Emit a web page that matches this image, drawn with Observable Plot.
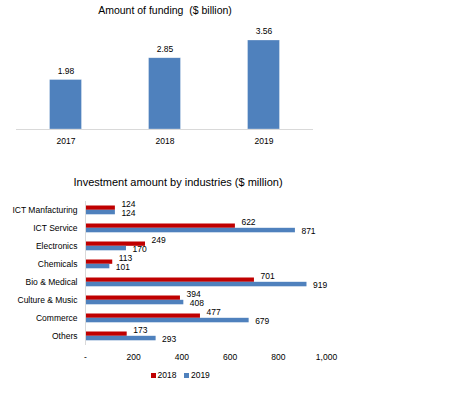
<!DOCTYPE html>
<html>
<head>
<meta charset="utf-8">
<script src="https://cdn.jsdelivr.net/npm/d3@7"></script>
<script src="https://cdn.jsdelivr.net/npm/@observablehq/plot@0.6"></script>
<style>
  body { margin: 0; background: #fff; }
  #wrap { position: relative; width: 458px; height: 394px; background: #fff; font-family: "Liberation Sans", Arial, sans-serif; color: #000; overflow: hidden; }
  .title { position: absolute; white-space: nowrap; transform: translate(-50%, -50%); }
  .abs { position: absolute; }
  #legend { position: absolute; top: 370px; left: 151px; font-size: 8.5px; display: flex; align-items: center; gap: 0; white-space: nowrap; }
  #legend .sw { display: inline-block; width: 5px; height: 5px; margin-right: 1.5px; }
</style>
</head>
<body>
<div id="wrap">
  <div class="title" style="left:165px; top:10px; font-size:10.5px;">Amount of funding&nbsp; ($ billion)</div>
  <div id="topChart" class="abs" style="left:0; top:0;"></div>
  <div class="title" style="left:178px; top:182px; font-size:11px;">Investment amount by industries ($ million)</div>
  <div id="bottomChart" class="abs" style="left:0; top:190px;"></div>
  <div id="legend">
    <span class="sw" style="background:#C00000"></span><span>2018</span>
    <span class="sw" style="background:#4F81BD; margin-left:8px"></span><span>2019</span>
  </div>
</div>
<script>
// Top chart data
const years = ["2017", "2018", "2019"];
const funding = [1.98, 2.85, 3.56];

// Bottom chart data
const industries = ["ICT Manfacturing", "ICT Service", "Electronics", "Chemicals", "Bio & Medical", "Culture & Music", "Commerce", "Others"];
const inv2018 = [124, 622, 249, 113, 701, 394, 477, 173];
const inv2019 = [124, 871, 170, 101, 919, 408, 679, 293];
const xTicks = [0, 200, 400, 600, 800, 1000];

const BLUE = "#4F81BD";
const RED = "#C00000";
const font = {fontFamily: "'Liberation Sans', Arial, sans-serif", fontSize: "8.5px", color: "#000", background: "transparent", overflow: "visible"};

const fundRows = years.map((y, i) => ({year: y, value: funding[i]}));

const topPlot = Plot.plot({
  width: 330, height: 150,
  marginLeft: 16, marginRight: 17, marginTop: 29, marginBottom: 21,
  style: font,
  x: {domain: years, padding: 0, label: null, tickSize: 0, tickPadding: 8},
  y: {domain: [0, 4], axis: null},
  marks: [
    Plot.barY(fundRows, {x: "year", y: "value", fill: BLUE, insetLeft: 33.5, insetRight: 33.5, stroke: "#ffffff", strokeOpacity: 0.5, strokeWidth: 0.6}),
    Plot.ruleY([0], {stroke: "#d9d9d9"}),
    Plot.text(fundRows, {x: "year", y: "value", text: d => d.value.toFixed(2), dy: -6.5, lineAnchor: "bottom", fontSize: 8.5, fill: "#000"})
  ]
});
document.getElementById("topChart").appendChild(topPlot);

const rows = industries.map((k, i) => ({industry: k, v2018: inv2018[i], v2019: inv2019[i]}));

const bottomPlot = Plot.plot({
  width: 340, height: 185,
  marginLeft: 85, marginRight: 14, marginTop: 11, marginBottom: 30,
  style: font,
  x: {domain: [0, 1000], ticks: xTicks, tickFormat: d => d === 0 ? "-" : d3.format(",")(d), tickSize: 0, tickPadding: 8, label: null},
  y: {domain: industries, padding: 0, tickSize: 0, tickPadding: 8, label: null},
  marks: [
    Plot.barX(rows, {x: "v2018", y: "industry", fill: RED, insetTop: 4.5, insetBottom: 9.2}),
    Plot.barX(rows, {x: "v2019", y: "industry", fill: BLUE, insetTop: 8.8, insetBottom: 4.7}),
    Plot.ruleX([0], {stroke: "#d9d9d9"}),
    Plot.text(rows, {x: "v2018", y: "industry", text: d => String(d.v2018), dx: 6, dy: -6.5, textAnchor: "start", fontSize: 8.5, fill: "#000"}),
    Plot.text(rows, {x: "v2019", y: "industry", text: d => String(d.v2019), dx: 6, dy: 2.5, textAnchor: "start", fontSize: 8.5, fill: "#000"})
  ]
});
document.getElementById("bottomChart").appendChild(bottomPlot);
</script>
</body>
</html>
